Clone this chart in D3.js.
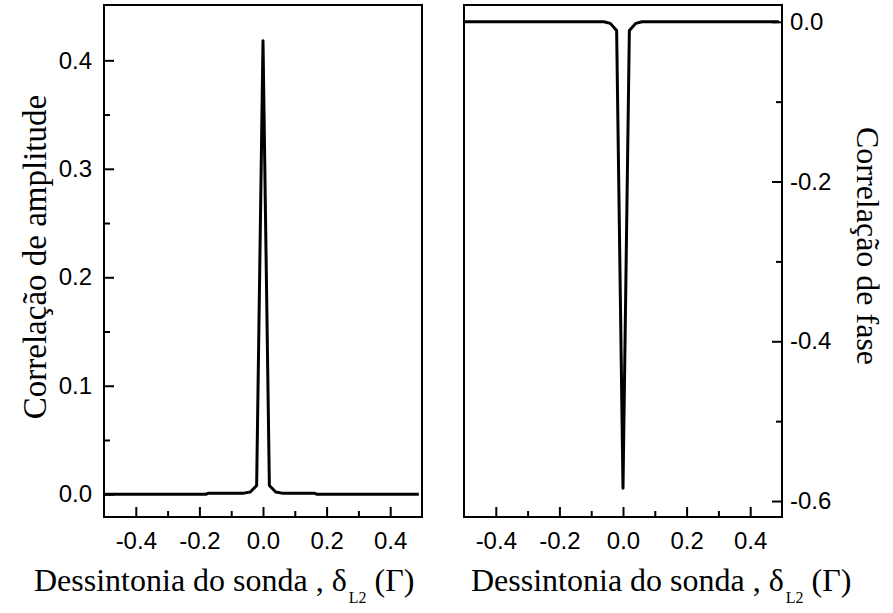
<!DOCTYPE html>
<html>
<head>
<meta charset="utf-8">
<script src="https://cdn.jsdelivr.net/npm/d3@7"></script>
<style>
  html, body { margin: 0; padding: 0; background: #fff; }
  svg { display: block; }
  .tick text { font-family: "Liberation Sans", Arial, sans-serif; font-size: 24px; fill: #000; }
  .tick line { stroke: #000; stroke-width: 2px; }
  .title { font-family: "Liberation Serif", "Times New Roman", serif; fill: #000; }
</style>
</head>
<body>
<svg id="chart" width="893" height="613"></svg>
<script>
// Probe detuning (in units of Gamma)
const ampX   = [-0.5, -0.18, -0.17, -0.06, -0.04, -0.02, 0, 0.02, 0.04, 0.06, 0.16, 0.17, 0.49];
// Amplitude correlation
const ampY   = [0, 0, 0.001, 0.001, 0.002, 0.008, 0.418, 0.008, 0.002, 0.001, 0.001, 0, 0];

const phaseX = [-0.5, -0.06, -0.04, -0.02, 0, 0.02, 0.04, 0.06, 0.49];
// Phase correlation
const phaseY = [0, 0, -0.002, -0.011, -0.584, -0.011, -0.002, 0, 0];

const xTicks      = [-0.4, -0.2, 0.0, 0.2, 0.4];
const xMinorTicks = [-0.3, -0.1, 0.1, 0.3];
const ampTicks      = [0.0, 0.1, 0.2, 0.3, 0.4];
const ampMinorTicks = [0.05, 0.15, 0.25, 0.35];
const phaseTicks      = [0.0, -0.2, -0.4, -0.6];
const phaseMinorTicks = [-0.1, -0.3, -0.5];

const fmt = v => d3.format(".1f")(v).replace("\u2212", "-");

const svg = d3.select("#chart");
const frameTop = 5, frameBottom = 517;

function panel(x0, x1, yDomain, xs, ys, yTicks, yMinor, side) {
  const x = d3.scaleLinear().domain([-0.5, 0.5]).range([x0, x1]);
  const y = d3.scaleLinear().domain(yDomain).range([frameBottom, frameTop]);
  const g = svg.append("g");

  // bottom axis: minor ticks, then major ticks with labels (ticks point inward)
  g.append("g").attr("transform", `translate(0,${frameBottom})`)
    .call(d3.axisBottom(x).tickValues(xMinorTicks).tickSize(-6).tickSizeOuter(0).tickFormat(""))
    .call(a => a.select(".domain").remove());
  const xa = g.append("g").attr("transform", `translate(0,${frameBottom})`)
    .call(d3.axisBottom(x).tickValues(xTicks).tickSize(-10).tickSizeOuter(0).tickFormat(fmt))
    .call(a => a.select(".domain").remove());
  xa.attr("font-size", null).attr("font-family", null);
  xa.selectAll(".tick text").attr("y", 15).attr("dy", "0.71em");

  // vertical axis on the chosen side
  const yx = side === "left" ? x0 : x1;
  const axisFn = side === "left" ? d3.axisLeft : d3.axisRight;
  g.append("g").attr("transform", `translate(${yx},0)`)
    .call(axisFn(y).tickValues(yMinor).tickSize(-6).tickSizeOuter(0).tickFormat(""))
    .call(a => a.select(".domain").remove());
  const ya = g.append("g").attr("transform", `translate(${yx},0)`)
    .call(axisFn(y).tickValues(yTicks).tickSize(-10).tickSizeOuter(0).tickFormat(fmt))
    .call(a => a.select(".domain").remove());
  ya.attr("font-size", null).attr("font-family", null);
  ya.selectAll(".tick text").attr("x", side === "left" ? -12 : 8);

  // curve
  const line = d3.line().x((d, i) => x(xs[i])).y(d => y(d));
  g.append("path").datum(ys)
    .attr("d", line)
    .attr("fill", "none").attr("stroke", "#000").attr("stroke-width", 3)
    .attr("stroke-linejoin", "round");

  // frame
  g.append("rect").attr("x", x0).attr("y", frameTop)
    .attr("width", x1 - x0).attr("height", frameBottom - frameTop)
    .attr("fill", "none").attr("stroke", "#000").attr("stroke-width", 2);
}

panel(104, 422, [-0.021, 0.451], ampX, ampY, ampTicks, ampMinorTicks, "left");
panel(464, 782, [-0.62, 0.021], phaseX, phaseY, phaseTicks, phaseMinorTicks, "right");

// x-axis titles
function xTitle(xStart) {
  const t = svg.append("text").attr("class", "title")
    .attr("x", xStart).attr("y", 591).attr("font-size", 32);
  t.append("tspan").text("Dessintonia do sonda , \u03B4");
  t.append("tspan").attr("font-size", 16).attr("dx", 2).attr("dy", 12).text("L2");
  t.append("tspan").attr("dy", -12).text(" (\u0393)");
}
xTitle(34);
xTitle(471);

// y-axis titles
svg.append("text").attr("class", "title")
  .attr("transform", "translate(46,257) rotate(-90)")
  .attr("text-anchor", "middle").attr("font-size", 33)
  .text("Correlação de amplitude");
svg.append("text").attr("class", "title")
  .attr("transform", "translate(857,246) rotate(90)")
  .attr("text-anchor", "middle").attr("font-size", 32)
  .text("Correlação de fase");
</script>
</body>
</html>
